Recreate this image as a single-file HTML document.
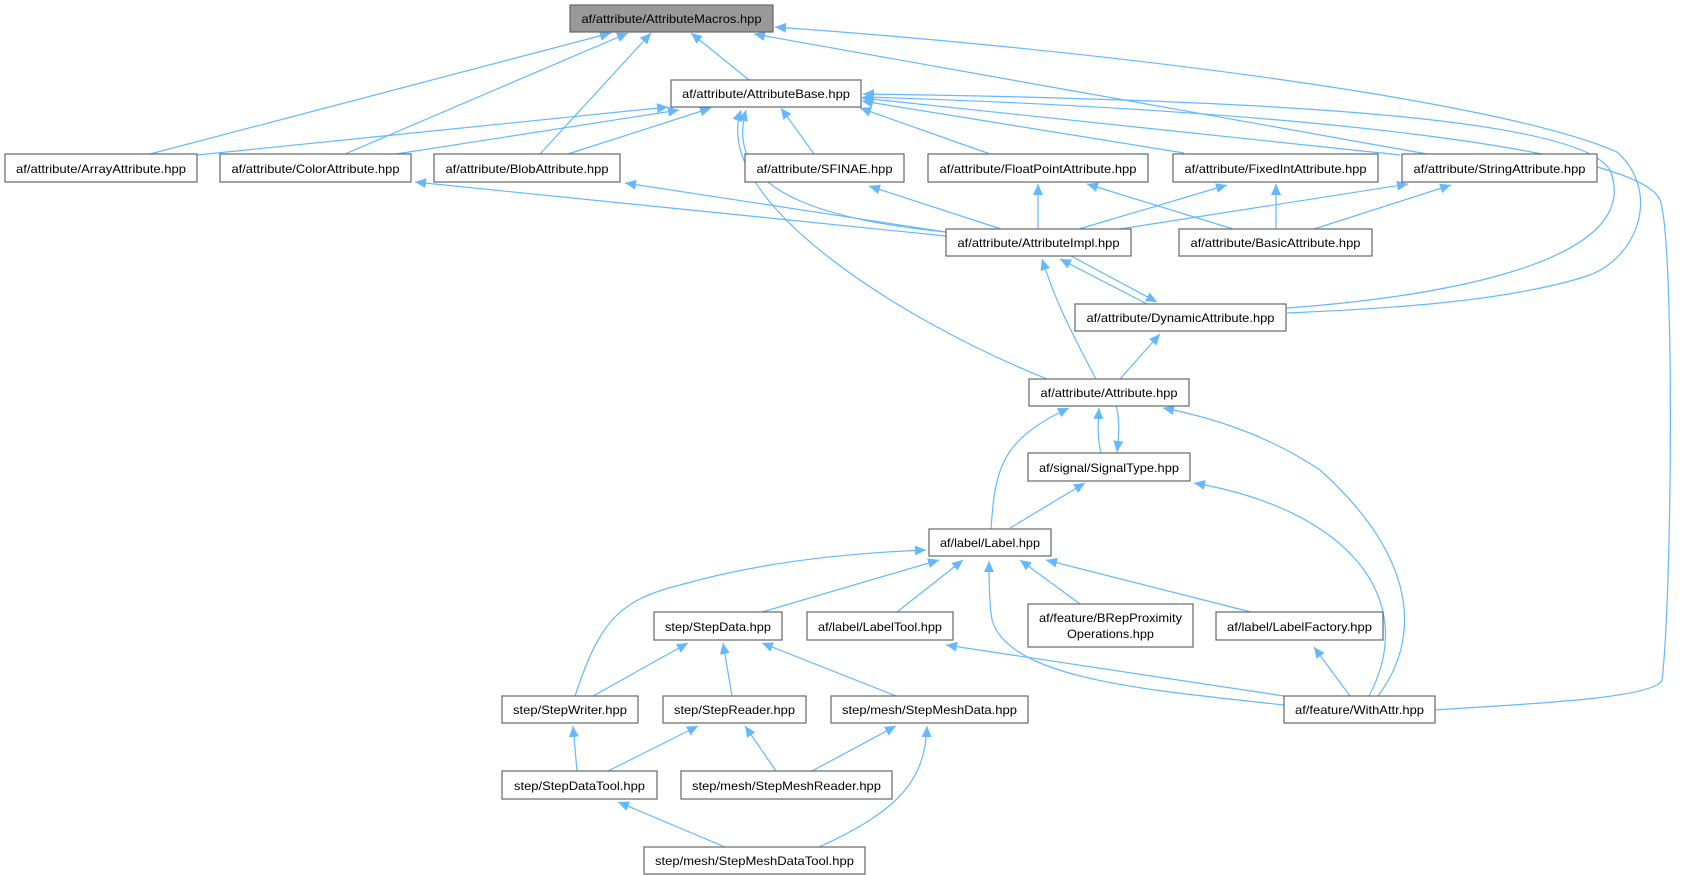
<!DOCTYPE html>
<html><head><meta charset="utf-8"><style>
html,body{margin:0;padding:0;background:#fff;}
svg{display:block;}
text{font-family:"Liberation Sans",sans-serif;font-size:12px;fill:#000;}
</style></head><body>
<svg width="1690" height="875" viewBox="0 0 1690 875" xmlns="http://www.w3.org/2000/svg">
<defs>
<marker id="a" markerWidth="12" markerHeight="10" refX="11" refY="5" orient="auto" markerUnits="userSpaceOnUse">
<path d="M0,0 L11,5 L0,10 z" fill="#63b8ff"/>
</marker>
</defs>
<g fill="none" stroke="#63b8ff" stroke-width="1.2" marker-end="url(#a)">
<!-- Macros -->
<path d="M150,154 L611,33"/>
<path d="M345,154 L628,33"/>
<path d="M540,154 L651,33"/>
<path d="M749,80 L691,33"/>
<path d="M1427,154 L754,34"/>
<path d="M1287,313 C1350,310 1500,305 1590,275 C1640,255 1660,190 1617,152 C1500,100 1100,50 775,27"/>
<!-- Base -->
<path d="M197,155 L668,107"/>
<path d="M396,154 L679,110"/>
<path d="M568,154 L711,108"/>
<path d="M814,154 L781,108"/>
<path d="M990,154 L860,108"/>
<path d="M1184,153 L862,101"/>
<path d="M1400,155 L862,98"/>
<path d="M1287,308 C1400,300 1650,270 1610,170 C1580,120 1300,100 863,94"/>
<path d="M1435,710 C1500,705 1655,700 1662,680 C1672,600 1675,240 1660,200 C1640,150 1300,110 863,97"/>
<path d="M1047,379 C900,320 710,200 741,110"/>
<path d="M946,232 C850,222 720,200 746,110"/>
<!-- Impl -->
<path d="M946,236 L415,182"/>
<path d="M946,232 L625,183"/>
<path d="M1001,229 L869,186"/>
<path d="M1038,229 L1038,184"/>
<path d="M1079,229 L1227,185"/>
<path d="M1120,229 L1408,184"/>
<path d="M1147,304 L1060,259"/>
<path d="M1071,256 L1157,302"/>
<path d="M1096,379 C1070,330 1055,300 1042,259"/>
<!-- Basic -->
<path d="M1233,229 L1087,184"/>
<path d="M1276,229 L1276,184"/>
<path d="M1314,229 L1451,185"/>
<!-- Dynamic -->
<path d="M1120,379 L1160,334"/>
<!-- Attribute -->
<path d="M991,529 C995,470 1000,440 1069,408"/>
<path d="M1101,453 C1097,435 1098,425 1099,408"/>
<path d="M1116,405 C1120,420 1119,435 1117,452"/>
<path d="M1378,696 C1420,640 1420,560 1320,470 C1260,430 1200,415 1163,408"/>
<!-- Signal -->
<path d="M1369,696 C1420,600 1350,510 1194,483"/>
<path d="M1010,528 L1085,483"/>
<!-- Label -->
<path d="M575,696 C600,620 620,600 680,585 C760,562 850,553 926,550"/>
<path d="M762,612 L939,560"/>
<path d="M897,612 L963,560"/>
<path d="M1080,604 L1020,560"/>
<path d="M1251,612 L1046,560"/>
<path d="M1284,705 C1150,690 1010,680 992,620 C989,600 989,580 989,561"/>
<path d="M1284,696 L946,645"/>
<path d="M1350,696 L1314,647"/>
<!-- StepData -->
<path d="M593,696 L688,643"/>
<path d="M732,696 L723,643"/>
<path d="M896,696 L762,643"/>
<!-- lower -->
<path d="M577,771 L573,726"/>
<path d="M608,771 L698,726"/>
<path d="M776,771 L745,726"/>
<path d="M812,771 L896,726"/>
<path d="M819,847 C900,810 925,780 927,726"/>
<path d="M725,847 L618,802"/>
</g>
<g stroke="#666" stroke-width="1.2" fill="#fff">
<rect x="570" y="5" width="203" height="27" fill="#999"/>
<rect x="671" y="80" width="190" height="27"/>
<rect x="5" y="154" width="192" height="28"/>
<rect x="220" y="154" width="191" height="28"/>
<rect x="434" y="154" width="186" height="28"/>
<rect x="745" y="154" width="159" height="28"/>
<rect x="928" y="154" width="220" height="28"/>
<rect x="1173" y="154" width="205" height="28"/>
<rect x="1402" y="154" width="195" height="28"/>
<rect x="946" y="229" width="185" height="27"/>
<rect x="1179" y="229" width="193" height="27"/>
<rect x="1075" y="304" width="211" height="27"/>
<rect x="1029" y="379" width="160" height="27"/>
<rect x="1028" y="453" width="162" height="28"/>
<rect x="929" y="529" width="122" height="27"/>
<rect x="654" y="612" width="128" height="28"/>
<rect x="807" y="612" width="146" height="28"/>
<rect x="1028" y="604" width="165" height="43"/>
<rect x="1216" y="612" width="167" height="28"/>
<rect x="502" y="696" width="136" height="27"/>
<rect x="663" y="696" width="143" height="27"/>
<rect x="831" y="696" width="197" height="27"/>
<rect x="1284" y="696" width="151" height="27"/>
<rect x="502" y="771" width="155" height="28"/>
<rect x="681" y="771" width="211" height="28"/>
<rect x="644" y="847" width="221" height="27"/>
</g>
<g text-anchor="middle">
<text x="671.5" y="23" textLength="180" lengthAdjust="spacingAndGlyphs">af/attribute/AttributeMacros.hpp</text>
<text x="766" y="98" textLength="168" lengthAdjust="spacingAndGlyphs">af/attribute/AttributeBase.hpp</text>
<text x="101" y="173" textLength="170" lengthAdjust="spacingAndGlyphs">af/attribute/ArrayAttribute.hpp</text>
<text x="315.5" y="173" textLength="168" lengthAdjust="spacingAndGlyphs">af/attribute/ColorAttribute.hpp</text>
<text x="527" y="173" textLength="163" lengthAdjust="spacingAndGlyphs">af/attribute/BlobAttribute.hpp</text>
<text x="824.5" y="173" textLength="136" lengthAdjust="spacingAndGlyphs">af/attribute/SFINAE.hpp</text>
<text x="1038" y="173" textLength="197" lengthAdjust="spacingAndGlyphs">af/attribute/FloatPointAttribute.hpp</text>
<text x="1275.5" y="173" textLength="182" lengthAdjust="spacingAndGlyphs">af/attribute/FixedIntAttribute.hpp</text>
<text x="1499.5" y="173" textLength="172" lengthAdjust="spacingAndGlyphs">af/attribute/StringAttribute.hpp</text>
<text x="1038.5" y="247" textLength="162" lengthAdjust="spacingAndGlyphs">af/attribute/AttributeImpl.hpp</text>
<text x="1275.5" y="247" textLength="170" lengthAdjust="spacingAndGlyphs">af/attribute/BasicAttribute.hpp</text>
<text x="1180.5" y="322" textLength="188" lengthAdjust="spacingAndGlyphs">af/attribute/DynamicAttribute.hpp</text>
<text x="1109" y="397" textLength="137" lengthAdjust="spacingAndGlyphs">af/attribute/Attribute.hpp</text>
<text x="1109" y="472" textLength="140" lengthAdjust="spacingAndGlyphs">af/signal/SignalType.hpp</text>
<text x="990" y="547" textLength="100" lengthAdjust="spacingAndGlyphs">af/label/Label.hpp</text>
<text x="718" y="631" textLength="106" lengthAdjust="spacingAndGlyphs">step/StepData.hpp</text>
<text x="880" y="631" textLength="124" lengthAdjust="spacingAndGlyphs">af/label/LabelTool.hpp</text>
<text x="1110.5" y="622" textLength="143" lengthAdjust="spacingAndGlyphs">af/feature/BRepProximity</text>
<text x="1110.5" y="638" textLength="87" lengthAdjust="spacingAndGlyphs">Operations.hpp</text>
<text x="1299.5" y="631" textLength="145" lengthAdjust="spacingAndGlyphs">af/label/LabelFactory.hpp</text>
<text x="570" y="714" textLength="114" lengthAdjust="spacingAndGlyphs">step/StepWriter.hpp</text>
<text x="734.5" y="714" textLength="121" lengthAdjust="spacingAndGlyphs">step/StepReader.hpp</text>
<text x="929.5" y="714" textLength="175" lengthAdjust="spacingAndGlyphs">step/mesh/StepMeshData.hpp</text>
<text x="1359.5" y="714" textLength="129" lengthAdjust="spacingAndGlyphs">af/feature/WithAttr.hpp</text>
<text x="579.5" y="790" textLength="131" lengthAdjust="spacingAndGlyphs">step/StepDataTool.hpp</text>
<text x="786.5" y="790" textLength="189" lengthAdjust="spacingAndGlyphs">step/mesh/StepMeshReader.hpp</text>
<text x="754.5" y="865" textLength="199" lengthAdjust="spacingAndGlyphs">step/mesh/StepMeshDataTool.hpp</text>
</g>
</svg>
</body></html>
